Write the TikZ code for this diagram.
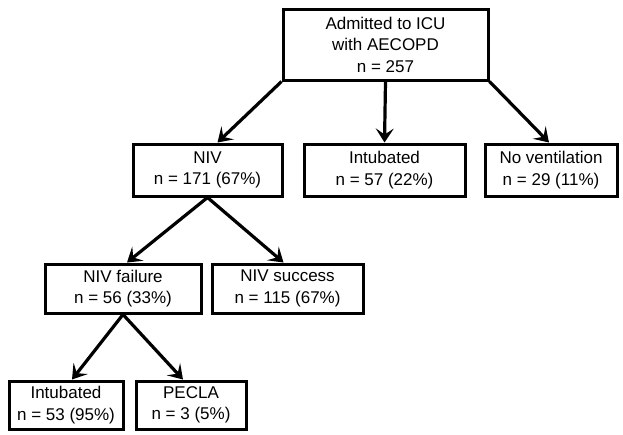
\documentclass[tikz,border=0pt]{standalone}
\usepackage{fontspec}
\setmainfont{Liberation Sans}
\usetikzlibrary{arrows.meta}
\begin{document}
\begin{tikzpicture}[x=1pt,y=-1pt,
  box/.style={draw, line width=3pt, inner sep=0pt, align=center,
    font=\fontsize{17}{21.5}\selectfont},
  arr/.style={line width=3.2pt, -{Stealth[length=14pt,width=18pt,inset=6pt]}}]
\useasboundingbox[fill=white] (0,0) rectangle (623,434);
\node[box, minimum width=205pt, minimum height=71pt] (top) at (385.5,44.5) {Admitted to ICU\\with AECOPD\\n = 257};
\node[box, minimum width=149pt, minimum height=52pt] (niv) at (207.5,170) {NIV\\n = 171 (67\%)};
\node[box, minimum width=161pt, minimum height=52pt] (intub) at (384.5,170) {Intubated\\n = 57 (22\%)};
\node[box, minimum width=132pt, minimum height=52pt] (novent) at (551,170) {No ventilation\\n = 29 (11\%)};
\node[box, minimum width=156pt, minimum height=49pt] (fail) at (123,288.5) {NIV failure\\n = 56 (33\%)};
\node[box, minimum width=151pt, minimum height=49pt] (succ) at (287.5,288.5) {NIV success\\n = 115 (67\%)};
\node[box, minimum width=114pt, minimum height=48pt] (intub2) at (66,405) {Intubated\\n = 53 (95\%)};
\node[box, minimum width=110pt, minimum height=48pt] (pecla) at (191,405) {PECLA\\n = 3 (5\%)};
\draw[arr] (top.south west) -- ([xshift=10pt]niv.north);
\draw[arr] (top.south) -- (intub.north);
\draw[arr] (top.south east) -- ([xshift=-2pt]novent.north);
\draw[arr] (niv.south) -- ([xshift=4pt]fail.north);
\draw[arr] (niv.south) -- ([xshift=-4pt]succ.north);
\draw[arr] (fail.south) -- ([xshift=6pt]intub2.north);
\draw[arr] (fail.south) -- ([xshift=-8pt]pecla.north);
\end{tikzpicture}
\end{document}
